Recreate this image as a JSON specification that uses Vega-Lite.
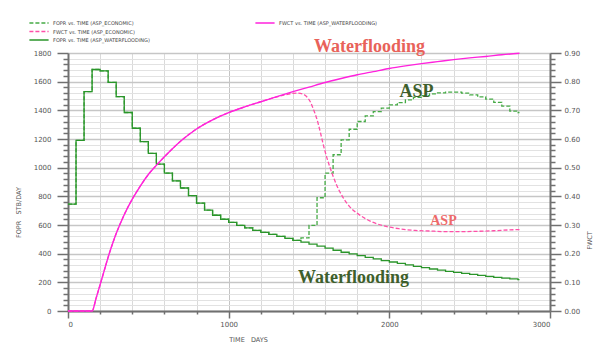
{
  "$schema": "https://vega.github.io/schema/vega-lite/v6.json",
  "width": 482,
  "height": 258,
  "autosize": {"type": "none"},
  "padding": {"left": 68, "top": 53, "right": 61, "bottom": 36},
  "background": "white",
  "config": {
    "view": {"stroke": null},
    "font": "DejaVu Sans",
    "axis": {
      "labelFont": "DejaVu Sans", "labelFontSize": 7, "labelColor": "#555",
      "titleFont": "DejaVu Sans", "titleFontSize": 6.5, "titleFontWeight": "normal", "titleColor": "#555",
      "domainColor": "#707070", "domainWidth": 2, "tickColor": "#707070", "tickWidth": 1.5
    },
    "legend": {
      "labelFont": "DejaVu Sans", "labelFontSize": 5, "labelColor": "#444",
      "symbolType": "M-3.2,0H3.2", "symbolSize": 36, "symbolStrokeWidth": 1.5,
      "symbolOffset": 7, "labelOffset": 10,
      "rowPadding": 1.5, "padding": 0, "title": null
    }
  },
  "datasets": {
    "fopr": [
      {"day":0,"fopr":745,"series":"FOPR vs. TIME (ASP_ECONOMIC)"},
      {"day":50,"fopr":1190,"series":"FOPR vs. TIME (ASP_ECONOMIC)"},
      {"day":100,"fopr":1530,"series":"FOPR vs. TIME (ASP_ECONOMIC)"},
      {"day":150,"fopr":1685,"series":"FOPR vs. TIME (ASP_ECONOMIC)"},
      {"day":200,"fopr":1675,"series":"FOPR vs. TIME (ASP_ECONOMIC)"},
      {"day":250,"fopr":1595,"series":"FOPR vs. TIME (ASP_ECONOMIC)"},
      {"day":300,"fopr":1495,"series":"FOPR vs. TIME (ASP_ECONOMIC)"},
      {"day":350,"fopr":1385,"series":"FOPR vs. TIME (ASP_ECONOMIC)"},
      {"day":400,"fopr":1275,"series":"FOPR vs. TIME (ASP_ECONOMIC)"},
      {"day":450,"fopr":1182,"series":"FOPR vs. TIME (ASP_ECONOMIC)"},
      {"day":500,"fopr":1100,"series":"FOPR vs. TIME (ASP_ECONOMIC)"},
      {"day":550,"fopr":1025,"series":"FOPR vs. TIME (ASP_ECONOMIC)"},
      {"day":600,"fopr":962,"series":"FOPR vs. TIME (ASP_ECONOMIC)"},
      {"day":650,"fopr":908,"series":"FOPR vs. TIME (ASP_ECONOMIC)"},
      {"day":700,"fopr":858,"series":"FOPR vs. TIME (ASP_ECONOMIC)"},
      {"day":750,"fopr":805,"series":"FOPR vs. TIME (ASP_ECONOMIC)"},
      {"day":800,"fopr":753,"series":"FOPR vs. TIME (ASP_ECONOMIC)"},
      {"day":850,"fopr":704,"series":"FOPR vs. TIME (ASP_ECONOMIC)"},
      {"day":900,"fopr":668,"series":"FOPR vs. TIME (ASP_ECONOMIC)"},
      {"day":950,"fopr":640,"series":"FOPR vs. TIME (ASP_ECONOMIC)"},
      {"day":1000,"fopr":618,"series":"FOPR vs. TIME (ASP_ECONOMIC)"},
      {"day":1050,"fopr":598,"series":"FOPR vs. TIME (ASP_ECONOMIC)"},
      {"day":1100,"fopr":580,"series":"FOPR vs. TIME (ASP_ECONOMIC)"},
      {"day":1150,"fopr":563,"series":"FOPR vs. TIME (ASP_ECONOMIC)"},
      {"day":1200,"fopr":548,"series":"FOPR vs. TIME (ASP_ECONOMIC)"},
      {"day":1250,"fopr":534,"series":"FOPR vs. TIME (ASP_ECONOMIC)"},
      {"day":1300,"fopr":520,"series":"FOPR vs. TIME (ASP_ECONOMIC)"},
      {"day":1350,"fopr":506,"series":"FOPR vs. TIME (ASP_ECONOMIC)"},
      {"day":1400,"fopr":493,"series":"FOPR vs. TIME (ASP_ECONOMIC)"},
      {"day":1450,"fopr":510,"series":"FOPR vs. TIME (ASP_ECONOMIC)"},
      {"day":1500,"fopr":598,"series":"FOPR vs. TIME (ASP_ECONOMIC)"},
      {"day":1550,"fopr":790,"series":"FOPR vs. TIME (ASP_ECONOMIC)"},
      {"day":1600,"fopr":962,"series":"FOPR vs. TIME (ASP_ECONOMIC)"},
      {"day":1650,"fopr":1090,"series":"FOPR vs. TIME (ASP_ECONOMIC)"},
      {"day":1700,"fopr":1194,"series":"FOPR vs. TIME (ASP_ECONOMIC)"},
      {"day":1750,"fopr":1268,"series":"FOPR vs. TIME (ASP_ECONOMIC)"},
      {"day":1800,"fopr":1322,"series":"FOPR vs. TIME (ASP_ECONOMIC)"},
      {"day":1850,"fopr":1361,"series":"FOPR vs. TIME (ASP_ECONOMIC)"},
      {"day":1900,"fopr":1391,"series":"FOPR vs. TIME (ASP_ECONOMIC)"},
      {"day":1950,"fopr":1415,"series":"FOPR vs. TIME (ASP_ECONOMIC)"},
      {"day":2000,"fopr":1438,"series":"FOPR vs. TIME (ASP_ECONOMIC)"},
      {"day":2050,"fopr":1454,"series":"FOPR vs. TIME (ASP_ECONOMIC)"},
      {"day":2100,"fopr":1473,"series":"FOPR vs. TIME (ASP_ECONOMIC)"},
      {"day":2150,"fopr":1490,"series":"FOPR vs. TIME (ASP_ECONOMIC)"},
      {"day":2200,"fopr":1503,"series":"FOPR vs. TIME (ASP_ECONOMIC)"},
      {"day":2250,"fopr":1515,"series":"FOPR vs. TIME (ASP_ECONOMIC)"},
      {"day":2300,"fopr":1522,"series":"FOPR vs. TIME (ASP_ECONOMIC)"},
      {"day":2350,"fopr":1527,"series":"FOPR vs. TIME (ASP_ECONOMIC)"},
      {"day":2400,"fopr":1527,"series":"FOPR vs. TIME (ASP_ECONOMIC)"},
      {"day":2450,"fopr":1520,"series":"FOPR vs. TIME (ASP_ECONOMIC)"},
      {"day":2500,"fopr":1508,"series":"FOPR vs. TIME (ASP_ECONOMIC)"},
      {"day":2550,"fopr":1494,"series":"FOPR vs. TIME (ASP_ECONOMIC)"},
      {"day":2600,"fopr":1478,"series":"FOPR vs. TIME (ASP_ECONOMIC)"},
      {"day":2650,"fopr":1455,"series":"FOPR vs. TIME (ASP_ECONOMIC)"},
      {"day":2700,"fopr":1430,"series":"FOPR vs. TIME (ASP_ECONOMIC)"},
      {"day":2750,"fopr":1395,"series":"FOPR vs. TIME (ASP_ECONOMIC)"},
      {"day":2800,"fopr":1385,"series":"FOPR vs. TIME (ASP_ECONOMIC)"},
      {"day":2810,"fopr":1385,"series":"FOPR vs. TIME (ASP_ECONOMIC)"},
      {"day":0,"fopr":745,"series":"FOPR vs. TIME (ASP_WATERFLOODING)"},
      {"day":50,"fopr":1190,"series":"FOPR vs. TIME (ASP_WATERFLOODING)"},
      {"day":100,"fopr":1530,"series":"FOPR vs. TIME (ASP_WATERFLOODING)"},
      {"day":150,"fopr":1685,"series":"FOPR vs. TIME (ASP_WATERFLOODING)"},
      {"day":200,"fopr":1675,"series":"FOPR vs. TIME (ASP_WATERFLOODING)"},
      {"day":250,"fopr":1595,"series":"FOPR vs. TIME (ASP_WATERFLOODING)"},
      {"day":300,"fopr":1495,"series":"FOPR vs. TIME (ASP_WATERFLOODING)"},
      {"day":350,"fopr":1385,"series":"FOPR vs. TIME (ASP_WATERFLOODING)"},
      {"day":400,"fopr":1275,"series":"FOPR vs. TIME (ASP_WATERFLOODING)"},
      {"day":450,"fopr":1182,"series":"FOPR vs. TIME (ASP_WATERFLOODING)"},
      {"day":500,"fopr":1100,"series":"FOPR vs. TIME (ASP_WATERFLOODING)"},
      {"day":550,"fopr":1025,"series":"FOPR vs. TIME (ASP_WATERFLOODING)"},
      {"day":600,"fopr":962,"series":"FOPR vs. TIME (ASP_WATERFLOODING)"},
      {"day":650,"fopr":908,"series":"FOPR vs. TIME (ASP_WATERFLOODING)"},
      {"day":700,"fopr":858,"series":"FOPR vs. TIME (ASP_WATERFLOODING)"},
      {"day":750,"fopr":805,"series":"FOPR vs. TIME (ASP_WATERFLOODING)"},
      {"day":800,"fopr":753,"series":"FOPR vs. TIME (ASP_WATERFLOODING)"},
      {"day":850,"fopr":704,"series":"FOPR vs. TIME (ASP_WATERFLOODING)"},
      {"day":900,"fopr":668,"series":"FOPR vs. TIME (ASP_WATERFLOODING)"},
      {"day":950,"fopr":640,"series":"FOPR vs. TIME (ASP_WATERFLOODING)"},
      {"day":1000,"fopr":618,"series":"FOPR vs. TIME (ASP_WATERFLOODING)"},
      {"day":1050,"fopr":598,"series":"FOPR vs. TIME (ASP_WATERFLOODING)"},
      {"day":1100,"fopr":580,"series":"FOPR vs. TIME (ASP_WATERFLOODING)"},
      {"day":1150,"fopr":563,"series":"FOPR vs. TIME (ASP_WATERFLOODING)"},
      {"day":1200,"fopr":548,"series":"FOPR vs. TIME (ASP_WATERFLOODING)"},
      {"day":1250,"fopr":534,"series":"FOPR vs. TIME (ASP_WATERFLOODING)"},
      {"day":1300,"fopr":520,"series":"FOPR vs. TIME (ASP_WATERFLOODING)"},
      {"day":1350,"fopr":506,"series":"FOPR vs. TIME (ASP_WATERFLOODING)"},
      {"day":1400,"fopr":493,"series":"FOPR vs. TIME (ASP_WATERFLOODING)"},
      {"day":1450,"fopr":480,"series":"FOPR vs. TIME (ASP_WATERFLOODING)"},
      {"day":1500,"fopr":466,"series":"FOPR vs. TIME (ASP_WATERFLOODING)"},
      {"day":1550,"fopr":452,"series":"FOPR vs. TIME (ASP_WATERFLOODING)"},
      {"day":1600,"fopr":438,"series":"FOPR vs. TIME (ASP_WATERFLOODING)"},
      {"day":1650,"fopr":424,"series":"FOPR vs. TIME (ASP_WATERFLOODING)"},
      {"day":1700,"fopr":410,"series":"FOPR vs. TIME (ASP_WATERFLOODING)"},
      {"day":1750,"fopr":398,"series":"FOPR vs. TIME (ASP_WATERFLOODING)"},
      {"day":1800,"fopr":386,"series":"FOPR vs. TIME (ASP_WATERFLOODING)"},
      {"day":1850,"fopr":374,"series":"FOPR vs. TIME (ASP_WATERFLOODING)"},
      {"day":1900,"fopr":363,"series":"FOPR vs. TIME (ASP_WATERFLOODING)"},
      {"day":1950,"fopr":352,"series":"FOPR vs. TIME (ASP_WATERFLOODING)"},
      {"day":2000,"fopr":342,"series":"FOPR vs. TIME (ASP_WATERFLOODING)"},
      {"day":2050,"fopr":332,"series":"FOPR vs. TIME (ASP_WATERFLOODING)"},
      {"day":2100,"fopr":322,"series":"FOPR vs. TIME (ASP_WATERFLOODING)"},
      {"day":2150,"fopr":312,"series":"FOPR vs. TIME (ASP_WATERFLOODING)"},
      {"day":2200,"fopr":302,"series":"FOPR vs. TIME (ASP_WATERFLOODING)"},
      {"day":2250,"fopr":293,"series":"FOPR vs. TIME (ASP_WATERFLOODING)"},
      {"day":2300,"fopr":285,"series":"FOPR vs. TIME (ASP_WATERFLOODING)"},
      {"day":2350,"fopr":277,"series":"FOPR vs. TIME (ASP_WATERFLOODING)"},
      {"day":2400,"fopr":269,"series":"FOPR vs. TIME (ASP_WATERFLOODING)"},
      {"day":2450,"fopr":262,"series":"FOPR vs. TIME (ASP_WATERFLOODING)"},
      {"day":2500,"fopr":255,"series":"FOPR vs. TIME (ASP_WATERFLOODING)"},
      {"day":2550,"fopr":248,"series":"FOPR vs. TIME (ASP_WATERFLOODING)"},
      {"day":2600,"fopr":241,"series":"FOPR vs. TIME (ASP_WATERFLOODING)"},
      {"day":2650,"fopr":235,"series":"FOPR vs. TIME (ASP_WATERFLOODING)"},
      {"day":2700,"fopr":229,"series":"FOPR vs. TIME (ASP_WATERFLOODING)"},
      {"day":2750,"fopr":224,"series":"FOPR vs. TIME (ASP_WATERFLOODING)"},
      {"day":2800,"fopr":219,"series":"FOPR vs. TIME (ASP_WATERFLOODING)"},
      {"day":2810,"fopr":219,"series":"FOPR vs. TIME (ASP_WATERFLOODING)"}
    ],
    "fwct_asp": [
      {"day":0,"fwct":0,"series":"FWCT vs. TIME (ASP_ECONOMIC)"},
      {"day":150,"fwct":0,"series":"FWCT vs. TIME (ASP_ECONOMIC)"},
      {"day":175,"fwct":0.045,"series":"FWCT vs. TIME (ASP_ECONOMIC)"},
      {"day":200,"fwct":0.092,"series":"FWCT vs. TIME (ASP_ECONOMIC)"},
      {"day":225,"fwct":0.14,"series":"FWCT vs. TIME (ASP_ECONOMIC)"},
      {"day":250,"fwct":0.188,"series":"FWCT vs. TIME (ASP_ECONOMIC)"},
      {"day":275,"fwct":0.231,"series":"FWCT vs. TIME (ASP_ECONOMIC)"},
      {"day":300,"fwct":0.27,"series":"FWCT vs. TIME (ASP_ECONOMIC)"},
      {"day":350,"fwct":0.336,"series":"FWCT vs. TIME (ASP_ECONOMIC)"},
      {"day":400,"fwct":0.39,"series":"FWCT vs. TIME (ASP_ECONOMIC)"},
      {"day":450,"fwct":0.436,"series":"FWCT vs. TIME (ASP_ECONOMIC)"},
      {"day":500,"fwct":0.476,"series":"FWCT vs. TIME (ASP_ECONOMIC)"},
      {"day":550,"fwct":0.508,"series":"FWCT vs. TIME (ASP_ECONOMIC)"},
      {"day":600,"fwct":0.538,"series":"FWCT vs. TIME (ASP_ECONOMIC)"},
      {"day":650,"fwct":0.566,"series":"FWCT vs. TIME (ASP_ECONOMIC)"},
      {"day":700,"fwct":0.592,"series":"FWCT vs. TIME (ASP_ECONOMIC)"},
      {"day":800,"fwct":0.635,"series":"FWCT vs. TIME (ASP_ECONOMIC)"},
      {"day":900,"fwct":0.667,"series":"FWCT vs. TIME (ASP_ECONOMIC)"},
      {"day":1000,"fwct":0.692,"series":"FWCT vs. TIME (ASP_ECONOMIC)"},
      {"day":1100,"fwct":0.712,"series":"FWCT vs. TIME (ASP_ECONOMIC)"},
      {"day":1200,"fwct":0.73,"series":"FWCT vs. TIME (ASP_ECONOMIC)"},
      {"day":1250,"fwct":0.739,"series":"FWCT vs. TIME (ASP_ECONOMIC)"},
      {"day":1300,"fwct":0.747,"series":"FWCT vs. TIME (ASP_ECONOMIC)"},
      {"day":1350,"fwct":0.754,"series":"FWCT vs. TIME (ASP_ECONOMIC)"},
      {"day":1400,"fwct":0.759,"series":"FWCT vs. TIME (ASP_ECONOMIC)"},
      {"day":1430,"fwct":0.76,"series":"FWCT vs. TIME (ASP_ECONOMIC)"},
      {"day":1460,"fwct":0.757,"series":"FWCT vs. TIME (ASP_ECONOMIC)"},
      {"day":1490,"fwct":0.745,"series":"FWCT vs. TIME (ASP_ECONOMIC)"},
      {"day":1510,"fwct":0.728,"series":"FWCT vs. TIME (ASP_ECONOMIC)"},
      {"day":1530,"fwct":0.7,"series":"FWCT vs. TIME (ASP_ECONOMIC)"},
      {"day":1550,"fwct":0.668,"series":"FWCT vs. TIME (ASP_ECONOMIC)"},
      {"day":1570,"fwct":0.625,"series":"FWCT vs. TIME (ASP_ECONOMIC)"},
      {"day":1590,"fwct":0.578,"series":"FWCT vs. TIME (ASP_ECONOMIC)"},
      {"day":1610,"fwct":0.537,"series":"FWCT vs. TIME (ASP_ECONOMIC)"},
      {"day":1630,"fwct":0.502,"series":"FWCT vs. TIME (ASP_ECONOMIC)"},
      {"day":1650,"fwct":0.47,"series":"FWCT vs. TIME (ASP_ECONOMIC)"},
      {"day":1690,"fwct":0.418,"series":"FWCT vs. TIME (ASP_ECONOMIC)"},
      {"day":1750,"fwct":0.366,"series":"FWCT vs. TIME (ASP_ECONOMIC)"},
      {"day":1810,"fwct":0.337,"series":"FWCT vs. TIME (ASP_ECONOMIC)"},
      {"day":1900,"fwct":0.309,"series":"FWCT vs. TIME (ASP_ECONOMIC)"},
      {"day":1980,"fwct":0.295,"series":"FWCT vs. TIME (ASP_ECONOMIC)"},
      {"day":2060,"fwct":0.287,"series":"FWCT vs. TIME (ASP_ECONOMIC)"},
      {"day":2160,"fwct":0.281,"series":"FWCT vs. TIME (ASP_ECONOMIC)"},
      {"day":2250,"fwct":0.279,"series":"FWCT vs. TIME (ASP_ECONOMIC)"},
      {"day":2350,"fwct":0.277,"series":"FWCT vs. TIME (ASP_ECONOMIC)"},
      {"day":2450,"fwct":0.277,"series":"FWCT vs. TIME (ASP_ECONOMIC)"},
      {"day":2550,"fwct":0.278,"series":"FWCT vs. TIME (ASP_ECONOMIC)"},
      {"day":2650,"fwct":0.28,"series":"FWCT vs. TIME (ASP_ECONOMIC)"},
      {"day":2750,"fwct":0.283,"series":"FWCT vs. TIME (ASP_ECONOMIC)"},
      {"day":2810,"fwct":0.284,"series":"FWCT vs. TIME (ASP_ECONOMIC)"}
    ],
    "fwct_wf": [
      {"day":0,"fwct":0,"series":"FWCT vs. TIME (ASP_WATERFLOODING)"},
      {"day":150,"fwct":0,"series":"FWCT vs. TIME (ASP_WATERFLOODING)"},
      {"day":175,"fwct":0.045,"series":"FWCT vs. TIME (ASP_WATERFLOODING)"},
      {"day":200,"fwct":0.092,"series":"FWCT vs. TIME (ASP_WATERFLOODING)"},
      {"day":225,"fwct":0.14,"series":"FWCT vs. TIME (ASP_WATERFLOODING)"},
      {"day":250,"fwct":0.188,"series":"FWCT vs. TIME (ASP_WATERFLOODING)"},
      {"day":275,"fwct":0.231,"series":"FWCT vs. TIME (ASP_WATERFLOODING)"},
      {"day":300,"fwct":0.27,"series":"FWCT vs. TIME (ASP_WATERFLOODING)"},
      {"day":350,"fwct":0.336,"series":"FWCT vs. TIME (ASP_WATERFLOODING)"},
      {"day":400,"fwct":0.39,"series":"FWCT vs. TIME (ASP_WATERFLOODING)"},
      {"day":450,"fwct":0.436,"series":"FWCT vs. TIME (ASP_WATERFLOODING)"},
      {"day":500,"fwct":0.476,"series":"FWCT vs. TIME (ASP_WATERFLOODING)"},
      {"day":550,"fwct":0.508,"series":"FWCT vs. TIME (ASP_WATERFLOODING)"},
      {"day":600,"fwct":0.538,"series":"FWCT vs. TIME (ASP_WATERFLOODING)"},
      {"day":650,"fwct":0.566,"series":"FWCT vs. TIME (ASP_WATERFLOODING)"},
      {"day":700,"fwct":0.592,"series":"FWCT vs. TIME (ASP_WATERFLOODING)"},
      {"day":800,"fwct":0.635,"series":"FWCT vs. TIME (ASP_WATERFLOODING)"},
      {"day":900,"fwct":0.667,"series":"FWCT vs. TIME (ASP_WATERFLOODING)"},
      {"day":1000,"fwct":0.692,"series":"FWCT vs. TIME (ASP_WATERFLOODING)"},
      {"day":1100,"fwct":0.712,"series":"FWCT vs. TIME (ASP_WATERFLOODING)"},
      {"day":1200,"fwct":0.73,"series":"FWCT vs. TIME (ASP_WATERFLOODING)"},
      {"day":1300,"fwct":0.748,"series":"FWCT vs. TIME (ASP_WATERFLOODING)"},
      {"day":1400,"fwct":0.765,"series":"FWCT vs. TIME (ASP_WATERFLOODING)"},
      {"day":1500,"fwct":0.781,"series":"FWCT vs. TIME (ASP_WATERFLOODING)"},
      {"day":1600,"fwct":0.797,"series":"FWCT vs. TIME (ASP_WATERFLOODING)"},
      {"day":1700,"fwct":0.811,"series":"FWCT vs. TIME (ASP_WATERFLOODING)"},
      {"day":1800,"fwct":0.824,"series":"FWCT vs. TIME (ASP_WATERFLOODING)"},
      {"day":1900,"fwct":0.835,"series":"FWCT vs. TIME (ASP_WATERFLOODING)"},
      {"day":2000,"fwct":0.846,"series":"FWCT vs. TIME (ASP_WATERFLOODING)"},
      {"day":2100,"fwct":0.855,"series":"FWCT vs. TIME (ASP_WATERFLOODING)"},
      {"day":2200,"fwct":0.863,"series":"FWCT vs. TIME (ASP_WATERFLOODING)"},
      {"day":2300,"fwct":0.87,"series":"FWCT vs. TIME (ASP_WATERFLOODING)"},
      {"day":2400,"fwct":0.877,"series":"FWCT vs. TIME (ASP_WATERFLOODING)"},
      {"day":2500,"fwct":0.883,"series":"FWCT vs. TIME (ASP_WATERFLOODING)"},
      {"day":2600,"fwct":0.888,"series":"FWCT vs. TIME (ASP_WATERFLOODING)"},
      {"day":2700,"fwct":0.894,"series":"FWCT vs. TIME (ASP_WATERFLOODING)"},
      {"day":2810,"fwct":0.899,"series":"FWCT vs. TIME (ASP_WATERFLOODING)"}
    ],
    "notes": [
      {"day":1877,"fopr":1807,"label":"Waterflooding","kind":"red"},
      {"day":2169,"fopr":1494,"label":"ASP","kind":"green"},
      {"day":1777,"fopr":198,"label":"Waterflooding","kind":"green"},
      {"day":2337,"fopr":602,"label":"ASP","kind":"pink"}
    ]
  },
  "encoding": {
    "x": {
      "field": "day", "type": "quantitative",
      "scale": {"domain": [0, 3000], "nice": false},
      "axis": {
        "title": "TIME\u00a0\u00a0\u00a0DAYS",
        "values": [0,200,400,600,800,1000,1200,1400,1600,1800,2000,2200,2400,2600,2800,3000],
        "labelExpr": "datum.value % 1000 === 0 ? format(datum.value, 'd') : ''",
        "tickSize": {"condition": {"test": "datum.value % 1000 === 0", "value": 7}, "value": 3},
        "labelPadding": 2,
        "grid": true,
        "gridColor": {"condition": {"test": "datum.value % 1000 === 0", "value": "#c4c4c4"}, "value": "#dadada"},
        "gridWidth": 1,
        "titleX": 180, "titleY": 28, "titleAlign": "center", "titleBaseline": "middle"
      }
    }
  },
  "layer": [
    {
      "layer": [
        {
          "data": {"name": "fopr"},
          "mark": {"type": "line", "interpolate": "step-after", "strokeWidth": 1.3},
          "encoding": {
            "y": {
              "field": "fopr", "type": "quantitative",
              "scale": {"domain": [0, 1800], "nice": false},
              "axis": {
                "orient": "left",
                "title": "FOPR\u00a0\u00a0\u00a0STB/DAY",
                "values": [0,40,80,120,160,200,240,280,320,360,400,440,480,520,560,600,640,680,720,760,800,840,880,920,960,1000,1040,1080,1120,1160,1200,1240,1280,1320,1360,1400,1440,1480,1520,1560,1600,1640,1680,1720,1760,1800],
                "labelExpr": "datum.value % 200 === 0 ? format(datum.value, 'd') : ''",
                "tickSize": {"condition": {"test": "datum.value % 200 === 0", "value": 11}, "value": 5},
                "labelPadding": 6,
                "labelFlush": false,
                "grid": true,
                "gridColor": {"condition": {"test": "datum.value % 200 === 0", "value": "#c6c6c6"}, "value": "#e2e2e2"},
                "gridWidth": {"condition": {"test": "datum.value % 200 === 0", "value": 1.6}, "value": 1},
                "titleX": -50, "titleY": 159, "titleAngle": -90, "titleAlign": "center", "titleBaseline": "middle"
              }
            },
            "color": {
              "field": "series", "type": "nominal",
              "scale": {"domain": ["FOPR vs. TIME (ASP_ECONOMIC)", "FWCT vs. TIME (ASP_ECONOMIC)", "FOPR vs. TIME (ASP_WATERFLOODING)"], "range": ["#45aa45", "#ff4fa8", "#2a952a"]},
              "legend": {"orient": "none", "legendX": -40, "legendY": -34, "direction": "vertical"}
            },
            "strokeDash": {
              "field": "series", "type": "nominal",
              "scale": {"domain": ["FOPR vs. TIME (ASP_ECONOMIC)", "FWCT vs. TIME (ASP_ECONOMIC)", "FOPR vs. TIME (ASP_WATERFLOODING)"], "range": [[4, 2], [4, 2], [1, 0]]},
              "legend": {"orient": "none", "legendX": -40, "legendY": -34, "direction": "vertical"}
            }
          }
        },
        {
          "data": {"name": "fwct_asp"},
          "mark": {"type": "line", "interpolate": "monotone", "strokeWidth": 1.3},
          "encoding": {
            "y": {"field": "fwct", "type": "quantitative", "scale": {"domain": [0, 0.9], "nice": false}, "axis": null},
            "color": {
              "field": "series", "type": "nominal",
              "scale": {"domain": ["FOPR vs. TIME (ASP_ECONOMIC)", "FWCT vs. TIME (ASP_ECONOMIC)", "FOPR vs. TIME (ASP_WATERFLOODING)"], "range": ["#45aa45", "#ff4fa8", "#2a952a"]},
              "legend": {"orient": "none", "legendX": -40, "legendY": -34, "direction": "vertical"}
            },
            "strokeDash": {
              "field": "series", "type": "nominal",
              "scale": {"domain": ["FOPR vs. TIME (ASP_ECONOMIC)", "FWCT vs. TIME (ASP_ECONOMIC)", "FOPR vs. TIME (ASP_WATERFLOODING)"], "range": [[4, 2], [4, 2], [1, 0]]},
              "legend": {"orient": "none", "legendX": -40, "legendY": -34, "direction": "vertical"}
            }
          }
        },
        {
          "data": {"name": "notes"},
          "transform": [{"filter": "datum.kind === 'red'"}],
          "mark": {"type": "text", "font": "Liberation Serif", "fontWeight": "bold", "fontSize": 18, "color": "#e8625a", "align": "center", "baseline": "alphabetic"},
          "encoding": {
            "y": {"field": "fopr", "type": "quantitative", "scale": {"domain": [0, 1800], "nice": false}, "axis": null},
            "text": {"field": "label"}
          }
        },
        {
          "data": {"name": "notes"},
          "transform": [{"filter": "datum.kind === 'green'"}],
          "mark": {"type": "text", "font": "Liberation Serif", "fontWeight": "bold", "fontSize": 18, "color": "#3e5f2c", "align": "center", "baseline": "alphabetic"},
          "encoding": {
            "y": {"field": "fopr", "type": "quantitative", "scale": {"domain": [0, 1800], "nice": false}, "axis": null},
            "text": {"field": "label"}
          }
        },
        {
          "data": {"name": "notes"},
          "transform": [{"filter": "datum.kind === 'pink'"}],
          "mark": {"type": "text", "font": "Liberation Serif", "fontWeight": "bold", "fontSize": 14, "color": "#ee6a6a", "align": "center", "baseline": "alphabetic"},
          "encoding": {
            "y": {"field": "fopr", "type": "quantitative", "scale": {"domain": [0, 1800], "nice": false}, "axis": null},
            "text": {"field": "label"}
          }
        }
      ],
      "resolve": {"scale": {"y": "independent"}}
    },
    {
      "data": {"name": "fwct_wf"},
      "mark": {"type": "line", "interpolate": "monotone", "strokeWidth": 1.4},
      "encoding": {
        "y": {
          "field": "fwct", "type": "quantitative",
          "scale": {"domain": [0, 0.9], "nice": false},
          "axis": {
            "orient": "right",
            "title": "FWCT",
            "values": [0,0.02,0.04,0.06,0.08,0.1,0.12,0.14,0.16,0.18,0.2,0.22,0.24,0.26,0.28,0.3,0.32,0.34,0.36,0.38,0.4,0.42,0.44,0.46,0.48,0.5,0.52,0.54,0.56,0.58,0.6,0.62,0.64,0.66,0.68,0.7,0.72,0.74,0.76,0.78,0.8,0.82,0.84,0.86,0.88,0.9],
            "labelExpr": "round(datum.value * 100) % 10 === 0 ? format(datum.value, '.2f') : ''",
            "tickSize": {"condition": {"test": "round(datum.value * 100) % 10 === 0", "value": 11}, "value": 5},
            "labelPadding": 3,
            "labelFlush": false,
            "grid": false,
            "titleX": 39, "titleY": 187, "titleAngle": -90, "titleAlign": "center", "titleBaseline": "middle"
          }
        },
        "color": {
          "field": "series", "type": "nominal",
          "scale": {"domain": ["FWCT vs. TIME (ASP_WATERFLOODING)"], "range": ["#ff22dd"]},
          "legend": {"orient": "none", "legendX": 186, "legendY": -34}
        }
      }
    }
  ],
  "resolve": {"scale": {"y": "independent", "color": "independent", "strokeDash": "independent"}}
}
